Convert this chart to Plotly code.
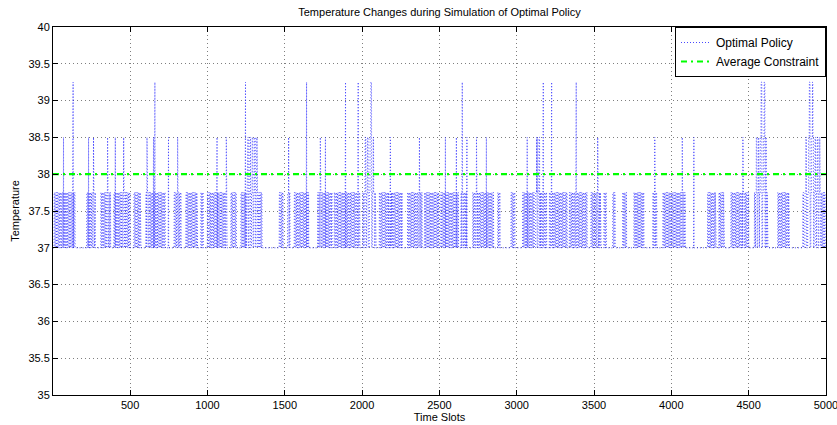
import numpy as np
import plotly.graph_objects as go

# ---- data ----
n_slots = 5000
base_temp = 37.0
constraint = 38.0

# dense activity bursts (temperature toggles between 37 and 37.75)
burst_start = [4, 215, 306, 390, 520, 597, 780, 856, 953, 995, 1147, 1212, 1244, 1460, 1514, 1557,
               1708, 1816, 2000, 2107, 2182, 2290, 2399, 2504, 2635, 2711, 2873, 2959, 3034, 3207,
               3336, 3476, 3560, 3617, 3681, 3754, 3876, 3941, 4230, 4303, 4381, 4533, 4684, 4846]
burst_end = [144, 276, 373, 500, 565, 727, 833, 931, 973, 1126, 1190, 1240, 1352, 1492, 1535, 1654,
             1805, 1989, 2086, 2172, 2258, 2388, 2496, 2624, 2679, 2851, 2894, 2991, 3196, 3326,
             3455, 3541, 3584, 3638, 3714, 3822, 3908, 4092, 4285, 4339, 4500, 4620, 4759, 5000]

# dense bursts that climb higher
high_start = [1250, 2010, 2042, 3119, 4540, 4566, 4860, 4878]
high_end = [1320, 2074, 2074, 3151, 4620, 4610, 4960, 4915]
high_top = [38.5, 38.5, 39.25, 38.5, 38.5, 39.25, 38.5, 39.25]

# isolated spikes (slot, peak temperature)
spike_slot = [68, 129, 230, 262, 353, 403, 457, 608, 650, 658, 747, 806, 1061, 1121, 1244, 1524,
              1639, 1729, 1762, 1891, 1973, 2182, 2370, 2538, 2609, 2646, 2677, 2739, 2803, 3067,
              3131, 3170, 3224, 3383, 3523, 3892, 4070, 4145, 4462]
spike_peak = [38.5, 39.25, 38.5, 38.5, 38.5, 38.5, 38.5, 38.5, 38.5, 39.25, 38.5, 38.5, 38.5, 38.5,
              39.25, 38.5, 39.25, 38.5, 38.5, 39.25, 39.25, 38.5, 38.5, 38.5, 38.5, 39.25, 38.5,
              38.5, 38.5, 38.5, 38.5, 39.25, 39.25, 39.25, 38.5, 38.5, 38.5, 38.5, 38.5]

x_ticks = [500, 1000, 1500, 2000, 2500, 3000, 3500, 4000, 4500, 5000]
y_ticks = [35, 35.5, 36, 36.5, 37, 37.5, 38, 38.5, 39, 39.5, 40]
step = 0.75
hold = 5  # slots spent at each level inside a burst

# ---- build the temperature trace from the events ----
t = np.arange(1, n_slots + 1)
y = np.full(n_slots, base_temp)
for s, e in zip(burst_start, burst_end):
    for k in range(s, e + 1):
        if ((k - s) // hold) % 2 == 1:
            y[k - 1] = base_temp + step
for s, e, top in zip(high_start, high_end, high_top):
    levels = np.arange(base_temp, top + 1e-9, step)
    for k in range(s, e + 1):
        y[k - 1] = levels[((k - s) // hold) % len(levels)]
for s, p in zip(spike_slot, spike_peak):
    levels = np.arange(base_temp + step, p + 1e-9, step)
    for j, v in enumerate(levels):
        if s - 1 + j < n_slots:
            y[s - 1 + j] = v
    if s - 1 + len(levels) < n_slots:
        y[s - 1 + len(levels)] = base_temp

fig = go.Figure()
fig.add_trace(go.Scatter(x=t, y=y, mode="lines", name="Optimal Policy", opacity=0.8,
                         line=dict(color="#1a1aff", width=1, dash="1px,2px")))
fig.add_trace(go.Scatter(x=[1, n_slots], y=[constraint, constraint], mode="lines",
                         name="Average Constraint",
                         line=dict(color="#00ff00", width=2.2, dash="6px,4px,2px,4px")))

font = "Liberation Sans, Arial, Helvetica, sans-serif"
axis_common = dict(showline=True, linecolor="black", linewidth=1, mirror="ticks",
                   ticks="inside", ticklen=5, tickcolor="black", automargin=False,
                   ticklabeloverflow="allow",
                   showgrid=True, gridcolor="#7f7f7f", griddash="1px,3px", gridwidth=1,
                   zeroline=False, tickfont=dict(family=font, size=11, color="black"))

fig.update_layout(
    width=837, height=425,
    margin=dict(l=53, r=11, t=27, b=30),
    paper_bgcolor="white", plot_bgcolor="white",
    font=dict(family=font, size=11, color="black"),
    title=dict(text="Temperature Changes during Simulation of Optimal Policy",
               x=(53 + 826) / 2 / 837, xanchor="center", y=1 - 12 / 425, yanchor="middle",
               font=dict(family=font, size=11, color="black"), automargin=False),
    showlegend=True,
    legend=dict(x=1, y=1, xanchor="right", yanchor="top", bgcolor="white",
                bordercolor="black", borderwidth=1, font=dict(family=font, size=12),
                tracegroupgap=0, itemwidth=30),
)
fig.update_xaxes(range=[1, n_slots + 0.5], tickvals=x_ticks, ticktext=[str(v) for v in x_ticks],
                 title=dict(text="Time Slots", standoff=0, font=dict(family=font, size=11)),
                 **axis_common)
fig.update_yaxes(range=[35, 40], tickvals=y_ticks, ticktext=[f"{v:g}" for v in y_ticks],
                 title=dict(text="Temperature", standoff=6, font=dict(family=font, size=11)),
                 **axis_common)

fig.write_html("out.html")
